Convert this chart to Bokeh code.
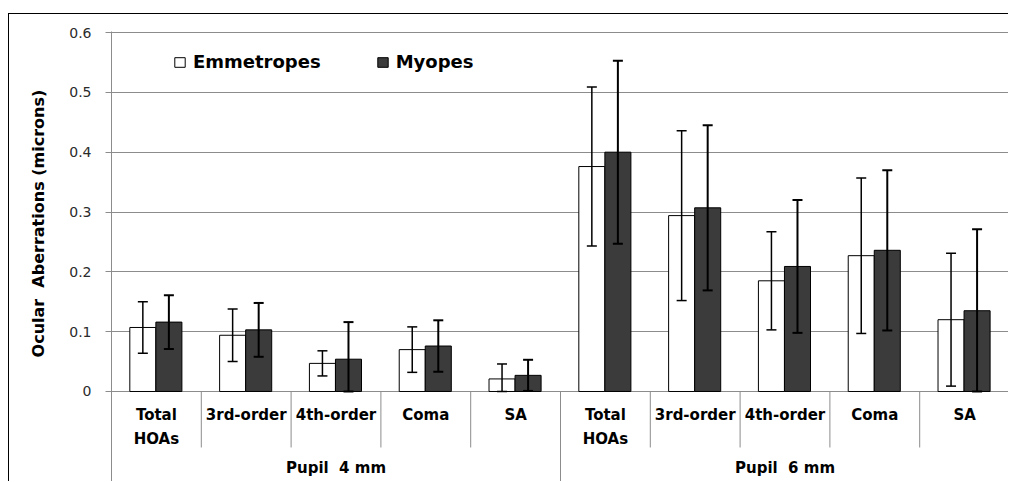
from bokeh.plotting import figure
from bokeh.models import (FactorRange, Range1d, ColumnDataSource, Whisker, TeeHead,
                          FixedTicker, Legend, LegendItem)
from bokeh.transform import dodge
from bokeh.core.properties import value
from bokeh.embed import file_html
from bokeh.resources import INLINE

# ---------------- data ----------------
groups = ["Pupil 4 mm", "Pupil 6 mm"]
group_labels = ["Pupil\u00a0 4 mm", "Pupil\u00a0 6 mm"]
categories = ["Total HOAs", "3rd-order", "4th-order", "Coma", "SA"]
category_labels = ["Total\nHOAs", "3rd-order", "4th-order", "Coma", "SA"]

emm_mean = [0.107, 0.094, 0.047, 0.070, 0.021, 0.376, 0.294, 0.185, 0.227, 0.120]
emm_sd   = [0.043, 0.044, 0.021, 0.038, 0.025, 0.133, 0.142, 0.082, 0.130, 0.111]
myo_mean = [0.116, 0.103, 0.054, 0.076, 0.027, 0.400, 0.307, 0.209, 0.236, 0.135]
myo_sd   = [0.045, 0.045, 0.062, 0.043, 0.026, 0.153, 0.138, 0.111, 0.134, 0.136]

y_ticks = [0, 0.1, 0.2, 0.3, 0.4, 0.5, 0.6]
y_tick_labels = ["0", "0.1", "0.2", "0.3", "0.4", "0.5", "0.6"]
series_names = ["Emmetropes", "Myopes"]
y_title = "Ocular\u00a0 Aberrations (microns)"

FONT = "DejaVu Sans"
GRID = "#8c8c8c"

factors = [(g, c) for g in groups for c in categories]

src = ColumnDataSource(dict(
    x=factors,
    emm=emm_mean,
    emm_hi=[m + s for m, s in zip(emm_mean, emm_sd)],
    emm_lo=[max(m - s, 0) for m, s in zip(emm_mean, emm_sd)],
    myo=myo_mean,
    myo_hi=[m + s for m, s in zip(myo_mean, myo_sd)],
    myo_lo=[max(m - s, 0) for m, s in zip(myo_mean, myo_sd)],
))

x_range = FactorRange(*factors, factor_padding=0, group_padding=0,
                      subgroup_padding=0, range_padding=0)

p = figure(x_range=x_range, y_range=Range1d(-0.1521, 0.6017),
           width=1000, height=468, output_backend="svg", toolbar_location=None,
           x_axis_location=None, min_border_left=102, min_border_right=0,
           min_border_top=17, min_border_bottom=0)
p.margin = (13, 0, 0, 8)
p.outline_line_color = None
p.background_fill_color = "white"
p.styles = {"border-top": "1px solid black", "border-left": "1px solid black"}
p.xgrid.visible = False

# y axis
p.yaxis.ticker = FixedTicker(ticks=y_ticks)
p.yaxis.major_label_overrides = dict(zip(y_ticks, y_tick_labels))
p.yaxis.minor_tick_line_color = None
p.yaxis.major_tick_in = 0
p.yaxis.major_tick_out = 6
p.yaxis.major_tick_line_color = GRID
p.yaxis.axis_line_color = GRID
p.yaxis.major_label_text_font = FONT
p.yaxis.major_label_text_font_size = "14px"
p.yaxis.major_label_text_color = "#2b2b2b"
p.yaxis.major_label_standoff = 14
# leading no-break spaces move the centred title up to where the reference has it
p.yaxis.axis_label = "\u00a0" * 12 + y_title
p.yaxis.axis_label_text_font = FONT
p.yaxis.axis_label_text_font_size = "16px"
p.yaxis.axis_label_text_font_style = "bold"
p.yaxis.axis_label_text_color = "black"
p.yaxis.axis_label_standoff = 18
p.ygrid.grid_line_color = GRID
p.ygrid.grid_line_width = 1

# bars
r_emm = p.vbar(x=dodge("x", -0.151, range=p.x_range), top="emm", width=0.29,
               source=src, fill_color="white", line_color="black", line_width=1)
r_myo = p.vbar(x=dodge("x", 0.139, range=p.x_range), top="myo", width=0.29,
               source=src, fill_color="#3b3b3b", line_color="black", line_width=1)

# error bars
p.add_layout(Whisker(base=dodge("x", -0.151, range=p.x_range), upper="emm_hi", lower="emm_lo",
                     source=src, line_color="black", line_width=1.5, level="annotation",
                     upper_head=TeeHead(size=10, line_width=1.5, line_color="black"),
                     lower_head=TeeHead(size=10, line_width=1.5, line_color="black")))
p.add_layout(Whisker(base=dodge("x", 0.139, range=p.x_range), upper="myo_hi", lower="myo_lo",
                     source=src, line_color="black", line_width=2, level="annotation",
                     upper_head=TeeHead(size=10, line_width=2, line_color="black"),
                     lower_head=TeeHead(size=10, line_width=2, line_color="black")))

# category-axis separators
inner = ColumnDataSource(dict(x=[(g, c) for g in groups for c in categories[1:]]))
p.segment(x0=dodge("x", -0.5, range=p.x_range), y0=0, x1=dodge("x", -0.5, range=p.x_range),
          y1=-0.0936, source=inner, line_color=GRID, line_width=1)
gstart = ColumnDataSource(dict(x=[(groups[1], categories[0])]))
p.segment(x0=dodge("x", -0.5, range=p.x_range), y0=0, x1=dodge("x", -0.5, range=p.x_range),
          y1=-0.3, source=gstart, line_color=GRID, line_width=1)
gend = ColumnDataSource(dict(x=[(groups[-1], categories[-1])]))
p.segment(x0=dodge("x", 0.5, range=p.x_range), y0=0, x1=dodge("x", 0.5, range=p.x_range),
          y1=-0.3, source=gend, line_color=GRID, line_width=1)

# category labels
lab = ColumnDataSource(dict(x=factors, text=category_labels * len(groups)))
p.text(x="x", y=-0.025, text="text", source=lab, text_align="center", text_baseline="top",
       text_font=value(FONT), text_font_style="bold", text_font_size="15px",
       text_line_height=1.33, text_color="black")
glab = ColumnDataSource(dict(x=[(g, categories[2]) for g in groups], text=group_labels))
p.text(x="x", y=-0.1287, text="text", source=glab, text_align="center", text_baseline="middle",
       text_font=value(FONT), text_font_style="bold", text_font_size="15px", text_color="black")

# legend
legend = Legend(items=[LegendItem(label=series_names[0], renderers=[r_emm]),
                       LegendItem(label=series_names[1], renderers=[r_myo])],
                location=(62, 410), orientation="horizontal",
                label_text_font=FONT, label_text_font_style="bold", label_text_font_size="18px",
                label_text_color="black",
                glyph_width=13, glyph_height=12, label_standoff=7, spacing=55,
                padding=0, margin=0, label_height=20,
                background_fill_alpha=0, border_line_color=None)
p.add_layout(legend)

open("out.html", "w").write(file_html(p, INLINE))
